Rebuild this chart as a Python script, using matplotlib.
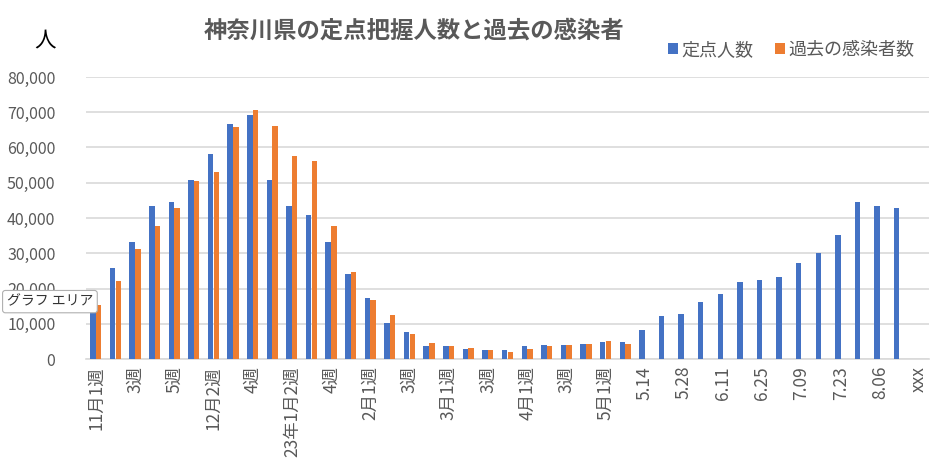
import numpy as np
import matplotlib
matplotlib.use('Agg')
import matplotlib.pyplot as plt

plt.rcParams['font.family'] = ['Noto Sans CJK JP', 'DejaVu Sans']

# data (43 weekly categories)
teiten = [18500, 25700, 33100, 43400, 44400, 50800, 58200, 66700, 69200, 50800,
          43400, 40900, 33100, 24000, 17200, 10100, 7600, 3600, 3600, 2700,
          2500, 2500, 3600, 3900, 3900, 4200, 4700, 4700, 8300, 12100,
          12700, 16100, 18400, 21800, 22300, 23200, 27100, 30000, 35100, 44500,
          43300, 42700, np.nan]
kako = [15300, 22100, 31100, 37700, 42800, 50500, 53000, 65700, 70500, 66100,
        57600, 56200, 37700, 24600, 16700, 12400, 7000, 4400, 3600, 3000,
        2500, 2100, 2700, 3600, 3900, 4200, 5000, 4200, np.nan, np.nan,
        np.nan, np.nan, np.nan, np.nan, np.nan, np.nan, np.nan, np.nan, np.nan, np.nan,
        np.nan, np.nan, np.nan]
tick_labels = ['11月1週', '3週', '5週', '12月2週', '4週', '23年1月2週', '4週',
               '2月1週', '3週', '3月1週', '3週', '4月1週', '3週', '5月1週',
               '5.14', '5.28', '6.11', '6.25', '7.09', '7.23', '8.06', 'xxx']
yticks = [0, 10000, 20000, 30000, 40000, 50000, 60000, 70000, 80000]

blue = '#4472C4'
orange = '#ED7D31'
gray = '#595959'

fig = plt.figure(figsize=(9.42, 4.75), dpi=100)
ax = fig.add_axes([0.0913, 0.2442, 0.8949, 0.5937])

x = np.arange(len(teiten))
w = 0.28
ax.bar(x - 0.145, teiten, width=w, color=blue, label='定点人数', zorder=3)
ax.bar(x + 0.145, kako, width=w, color=orange, label='過去の感染者数', zorder=3)

ax.set_xlim(-0.5, len(teiten) - 0.5)
ax.set_ylim(0, 80000)
ax.set_yticks(yticks)
ax.set_yticklabels(['{:,}'.format(v) for v in yticks], fontsize=11.5, color=gray)
ax.set_xticks(x[::2])
ax.set_xticklabels(tick_labels, rotation=90, fontsize=12.5, color=gray, va='top')
ax.tick_params(length=0)
ax.tick_params(axis='y', pad=22)
ax.tick_params(axis='x', pad=5)
ax.grid(axis='y', color='#d9d9d9', linewidth=1.2, zorder=0)
for s in ['top', 'right', 'left']:
    ax.spines[s].set_visible(False)
ax.spines['bottom'].set_color('#d9d9d9')
ax.spines['bottom'].set_linewidth(1.2)

fig.text(0.44, 0.935, '神奈川県の定点把握人数と過去の感染者', ha='center', va='center',
         fontsize=16.8, fontweight='bold', color=gray)
fig.text(0.048, 0.915, '人', ha='center', va='center', fontsize=15.5, color='black')

leg = fig.legend(loc='center right', bbox_to_anchor=(0.988, 0.895), ncol=2, frameon=False,
                 fontsize=13, handlelength=0.55, handleheight=0.55, handletextpad=0.2,
                 columnspacing=1.2, labelcolor=gray)

# tooltip from the screenshot
fig.text(0.053, 0.365, 'グラフ エリア', ha='center', va='center', fontsize=10, color='#333333',
         bbox=dict(boxstyle='round,pad=0.3,rounding_size=0.2', fc='white', ec='#b0b0b0', lw=0.8),
         zorder=10)

fig.savefig('out.png', dpi=100)
